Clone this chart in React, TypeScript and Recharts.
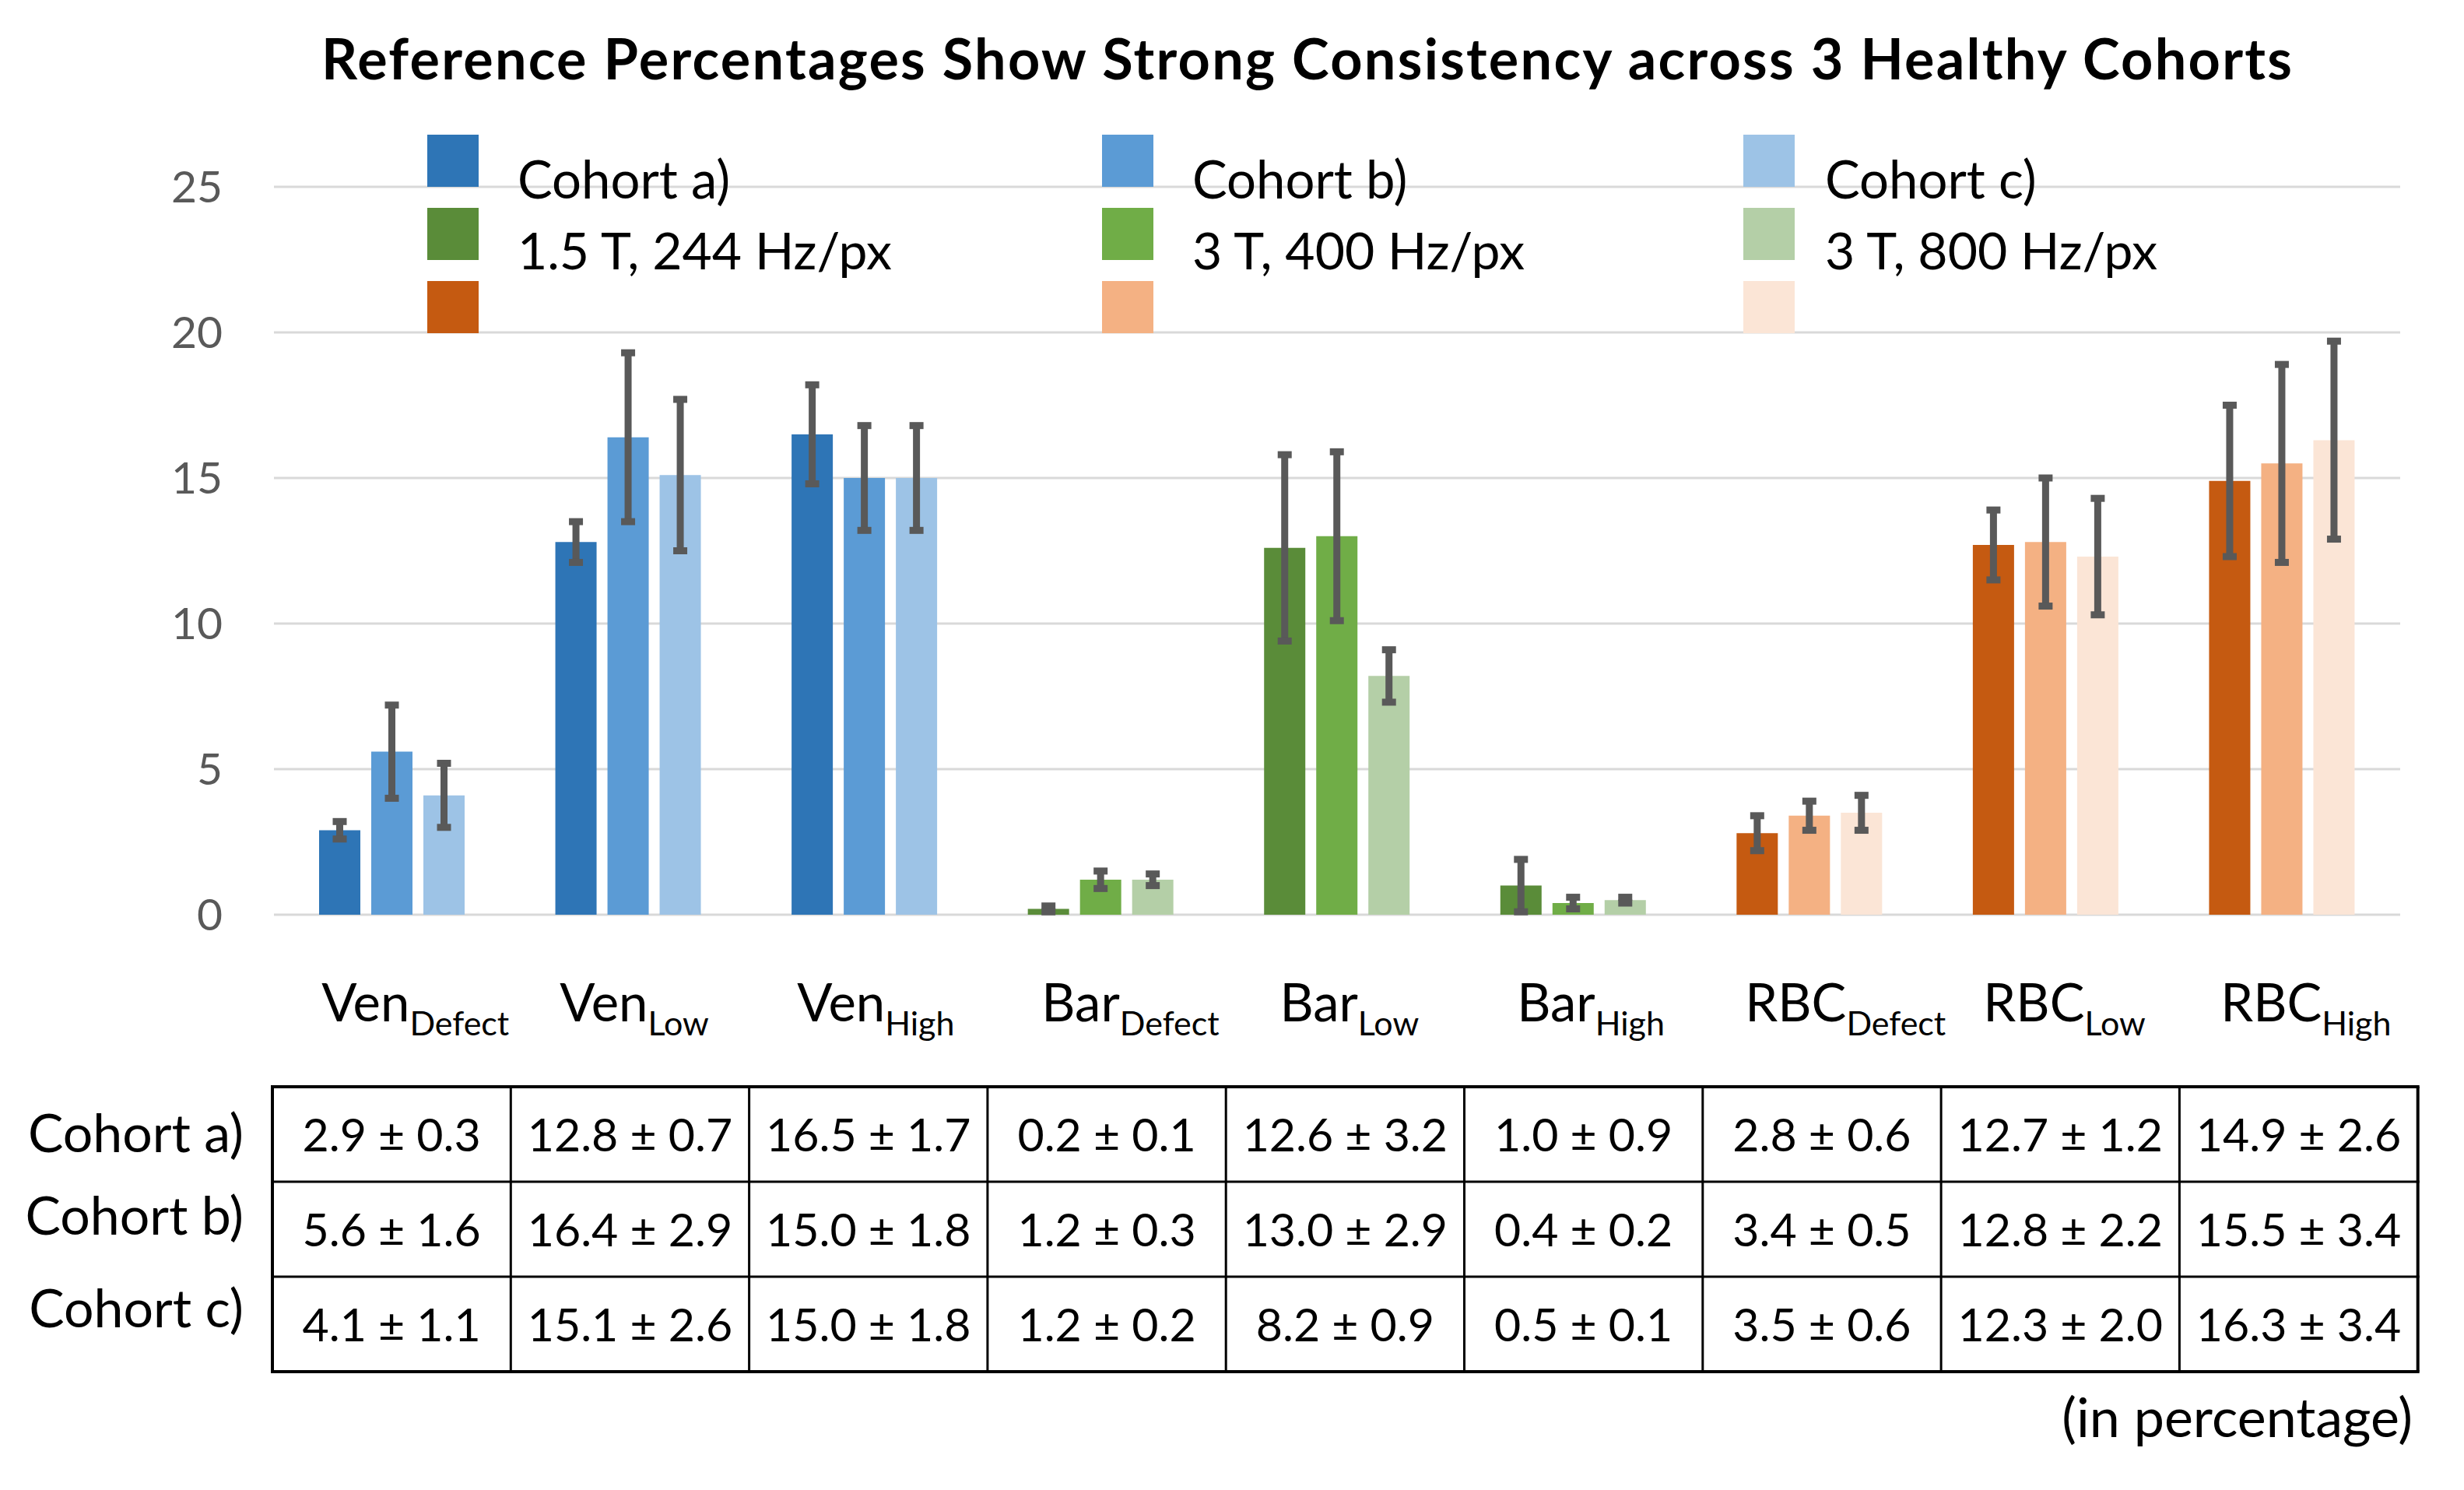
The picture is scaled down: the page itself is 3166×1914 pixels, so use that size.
import React from 'react';
import { BarChart, Bar, XAxis, YAxis, CartesianGrid, ErrorBar, Cell } from 'recharts';

// metric names and their subscripts (x categories)
const metrics = ['Ven', 'Ven', 'Ven', 'Bar', 'Bar', 'Bar', 'RBC', 'RBC', 'RBC'];
const subscripts = ['Defect', 'Low', 'High', 'Defect', 'Low', 'High', 'Defect', 'Low', 'High'];

// mean and SD per cohort (in percentage)
const cohortA = [2.9, 12.8, 16.5, 0.2, 12.6, 1.0, 2.8, 12.7, 14.9];
const cohortASd = [0.3, 0.7, 1.7, 0.1, 3.2, 0.9, 0.6, 1.2, 2.6];
const cohortB = [5.6, 16.4, 15.0, 1.2, 13.0, 0.4, 3.4, 12.8, 15.5];
const cohortBSd = [1.6, 2.9, 1.8, 0.3, 2.9, 0.2, 0.5, 2.2, 3.4];
const cohortC = [4.1, 15.1, 15.0, 1.2, 8.2, 0.5, 3.5, 12.3, 16.3];
const cohortCSd = [1.1, 2.6, 1.8, 0.2, 0.9, 0.1, 0.6, 2.0, 3.4];

const yTicks = [0, 5, 10, 15, 20, 25];
const cohortLabels = ['Cohort a)', 'Cohort b)', 'Cohort c)'];
const scannerLabels = ['1.5 T, 244 Hz/px', '3 T, 400 Hz/px', '3 T, 800 Hz/px'];

const palette: Record<string, string[]> = {
  Ven: ['#2E75B6', '#5B9BD5', '#9DC3E6'],
  Bar: ['#5A8C39', '#70AD47', '#B4CFA7'],
  RBC: ['#C55A11', '#F4B183', '#FBE5D6'],
};
const legendRows = ['Ven', 'Bar', 'RBC'];

const FONT = 'Lato, "Open Sans", sans-serif';

const data = metrics.map((m, i) => ({
  key: m + subscripts[i],
  a: cohortA[i],
  aErr: cohortASd[i],
  b: cohortB[i],
  bErr: cohortBSd[i],
  c: cohortC[i],
  cErr: cohortCSd[i],
}));

const rows = [
  { means: cohortA, sds: cohortASd },
  { means: cohortB, sds: cohortBSd },
  { means: cohortC, sds: cohortCSd },
];

// table layout
const TABLE_LEFT = 350;
const COL_W = 306.3;
const TABLE_TOP = 1396;
const ROW_H = 122;
const rowLabelBaselines = [1480, 1586, 1705];

const SUB_SHIFT: Record<string, number> = { Defect: 30, Low: 5, High: 9 };

const CategoryTick = (props: any) => {
  const { x, y, payload } = props;
  const i = data.findIndex((d) => d.key === payload.value);
  const sub = subscripts[i];
  const cx = x + SUB_SHIFT[sub] + i * 2.7;
  return (
    <text x={cx} y={y + 137} textAnchor="middle" fontFamily={FONT} fontSize={67} fill="#000">
      {metrics[i]}
      <tspan fontSize={43} dy={18}>{sub}</tspan>
    </text>
  );
};

const series = [
  { key: 'a', err: 'aErr', idx: 0 },
  { key: 'b', err: 'bErr', idx: 1 },
  { key: 'c', err: 'cErr', idx: 2 },
];

export default function App() {
  return (
    <div style={{ position: 'absolute', left: 0, top: 0, width: 3166, height: 1900, background: '#fff', overflow: 'hidden' }}>
      <BarChart
        width={3166}
        height={1400}
        data={data}
        margin={{ top: 240, right: 82, bottom: 0, left: 272 }}
        barSize={53}
        barGap={14}
      >
        <CartesianGrid horizontal vertical={false} stroke="#D9D9D9" strokeWidth={3} />
        <XAxis
          dataKey="key"
          height={225}
          axisLine={false}
          tickLine={false}
          tickSize={0}
          tickMargin={0}
          interval={0}
          tick={<CategoryTick />}
        />
        <YAxis
          width={80}
          domain={[0, 25]}
          ticks={yTicks}
          axisLine={false}
          tickLine={false}
          tickSize={0}
          tickMargin={66}
          tick={{ fontSize: 57, fill: '#595959', fontFamily: FONT }}
        />
        {series.map((s) => (
          <Bar key={s.key} dataKey={s.key} isAnimationActive={false}>
            {data.map((d, i) => (
              <Cell key={d.key} fill={palette[metrics[i]][s.idx]} />
            ))}
            <ErrorBar dataKey={s.err} direction="y" width={9} strokeWidth={9} stroke="#595959" isAnimationActive={false} />
          </Bar>
        ))}
      </BarChart>

      <svg
        width={3166}
        height={1900}
        style={{ position: 'absolute', left: 0, top: 0, pointerEvents: 'none' }}
        fontFamily={FONT}
      >
        {/* Title */}
        <text
          x={413}
          y={102}
          fontSize={72}
          fontWeight={700}
          fill="#000"
          textLength={2532}
          lengthAdjust="spacing"
        >
          Reference Percentages Show Strong Consistency across 3 Healthy Cohorts
        </text>

        {/* Legend */}
        {[549, 1416, 2240].map((sx, col) => (
          <g key={col}>
            {legendRows.map((grp, r) => (
              <rect key={grp} x={sx} y={173 + r * 94} width={66} height={67} fill={palette[grp][col]} />
            ))}
          </g>
        ))}
        {[665, 1532, 2345].map((tx, col) => (
          <g key={col}>
            <text x={tx} y={255} fontSize={67} fill="#000">{cohortLabels[col]}</text>
            <text x={tx} y={346} fontSize={66} fill="#000">{scannerLabels[col]}</text>
          </g>
        ))}

        {/* Table */}
        {rows.map((row, r) =>
          row.means.map((m, c) => (
            <text
              key={`${r}-${c}`}
              x={TABLE_LEFT + (c + 0.5) * COL_W}
              y={TABLE_TOP + r * ROW_H + 83}
              textAnchor="middle"
              fontSize={59}
              fill="#000"
            >
              {`${m.toFixed(1)} ± ${row.sds[c].toFixed(1)}`}
            </text>
          ))
        )}
        {cohortLabels.map((l, r) => (
          <text key={l} x={313} y={rowLabelBaselines[r]} textAnchor="end" fontSize={68} fill="#000">
            {l}
          </text>
        ))}
        {[0, 1, 2, 3].map((r) => (
          <line
            key={`h${r}`}
            x1={TABLE_LEFT - 2}
            x2={TABLE_LEFT + 9 * COL_W + 2}
            y1={TABLE_TOP + r * ROW_H}
            y2={TABLE_TOP + r * ROW_H}
            stroke="#000"
            strokeWidth={r === 0 || r === 3 ? 4 : 3}
          />
        ))}
        {Array.from({ length: 10 }, (_, c) => (
          <line
            key={`v${c}`}
            x1={TABLE_LEFT + c * COL_W}
            x2={TABLE_LEFT + c * COL_W}
            y1={TABLE_TOP}
            y2={TABLE_TOP + 3 * ROW_H}
            stroke="#000"
            strokeWidth={c === 0 || c === 9 ? 4 : 3}
          />
        ))}
        <text x={3100} y={1846} textAnchor="end" fontSize={70} fill="#000">
          (in percentage)
        </text>
      </svg>
    </div>
  );
}
